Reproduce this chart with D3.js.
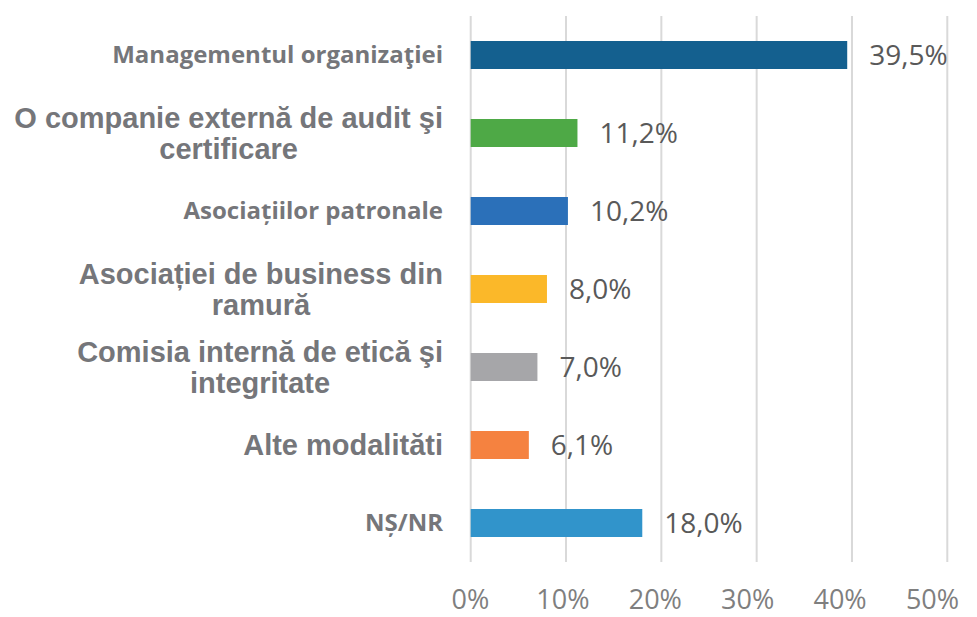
<!DOCTYPE html>
<html>
<head>
<meta charset="utf-8">
<script src="https://cdn.jsdelivr.net/npm/d3@7"></script>
<style>
  html, body { margin: 0; padding: 0; background: #fff; }
  svg { display: block; }
</style>
</head>
<body>
<svg id="chart" width="977" height="617"></svg>
<script>
// chart data
const categories = [
    "Managementul organizaţiei",
    "O companie externă de audit şi\ncertificare",
    "Asociațiilor patronale",
    "Asociației de business din\nramură",
    "Comisia internă de etică şi\nintegritate",
    "Alte modalităti",
    "NȘ/NR"
];
const values = [39.5, 11.2, 10.2, 8.0, 7.0, 6.1, 18.0];
const valueLabels = ["39,5%", "11,2%", "10,2%", "8,0%", "7,0%", "6,1%", "18,0%"];
const ticks = [0, 10, 20, 30, 40, 50];
const tickLabels = ["0%", "10%", "20%", "30%", "40%", "50%"];

// styling
const barColors = ["#14608f", "#4ea946", "#2b70b9", "#fbb829", "#a6a6a9", "#f58240", "#3194cb"];
// labels that the source renders in the smaller sans font
const smallLabels = new Set([0, 2, 6]);

const svg = d3.select("#chart");

const x = d3.scaleLinear().domain([0, 50]).range([470.7, 947.3]);
// the source squeezes its tick labels a little so the last one stays inside
const xLabel = d3.scaleLinear().domain([0, 50]).range([470.5, 932.5]);
const y = d3.scaleBand()
    .domain(d3.range(categories.length))
    .range([16, 562])
    .paddingInner(0.641)
    .paddingOuter(0.3205);

// gridlines
svg.append("g")
    .selectAll("line")
    .data(ticks)
    .join("line")
    .attr("x1", d => x(d))
    .attr("x2", d => x(d))
    .attr("y1", 16)
    .attr("y2", 562)
    .attr("stroke", "#d9d9d9")
    .attr("stroke-width", 2);

// tick labels
svg.append("g")
    .selectAll("text")
    .data(ticks)
    .join("text")
    .attr("x", d => xLabel(d))
    .attr("y", 609)
    .attr("text-anchor", "middle")
    .attr("font-family", "'Open Sans', sans-serif")
    .attr("font-size", 27)
    .attr("fill", "#7f7f7f")
    .text((d, i) => tickLabels[i]);

// bars
svg.append("g")
    .selectAll("rect")
    .data(values)
    .join("rect")
    .attr("x", x(0))
    .attr("y", (d, i) => y(i))
    .attr("width", d => x(d) - x(0))
    .attr("height", y.bandwidth())
    .attr("fill", (d, i) => barColors[i]);

// value labels
svg.append("g")
    .selectAll("text")
    .data(values)
    .join("text")
    .attr("x", d => x(d) + 22)
    .attr("y", (d, i) => y(i) + y.bandwidth() / 2)
    .attr("dy", "0.36em")
    .attr("font-family", "'Open Sans', sans-serif")
    .attr("font-size", 28)
    .attr("fill", "#595959")
    .text((d, i) => valueLabels[i]);

// category labels
const labelRight = 443;
const catG = svg.append("g");
categories.forEach((c, i) => {
    const lines = c.split("\n");
    const cy = y(i) + y.bandwidth() / 2;
    const small = smallLabels.has(i);
    const t = catG.append("text")
        .attr("font-family", small ? "'Open Sans', sans-serif" : "'Liberation Sans', Arial, sans-serif")
        .attr("font-weight", "bold")
        .attr("font-size", small ? 24 : 29)
        .attr("fill", "#75767a");
    if (lines.length === 1) {
        t.attr("x", labelRight).attr("y", cy).attr("dy", "0.35em")
            .attr("text-anchor", "end").text(c);
    } else {
        t.attr("text-anchor", "middle");
        const spans = t.selectAll("tspan").data(lines).join("tspan").text(d => d);
        // centre the block under the widest line, right edge at labelRight
        const w = d3.max(spans.nodes(), n => n.getComputedTextLength());
        const lh = 31;
        spans.attr("x", labelRight - w / 2)
            .attr("y", (d, k) => cy + (k - (lines.length - 1) / 2) * lh)
            .attr("dy", "0.35em");
    }
});
</script>
</body>
</html>
